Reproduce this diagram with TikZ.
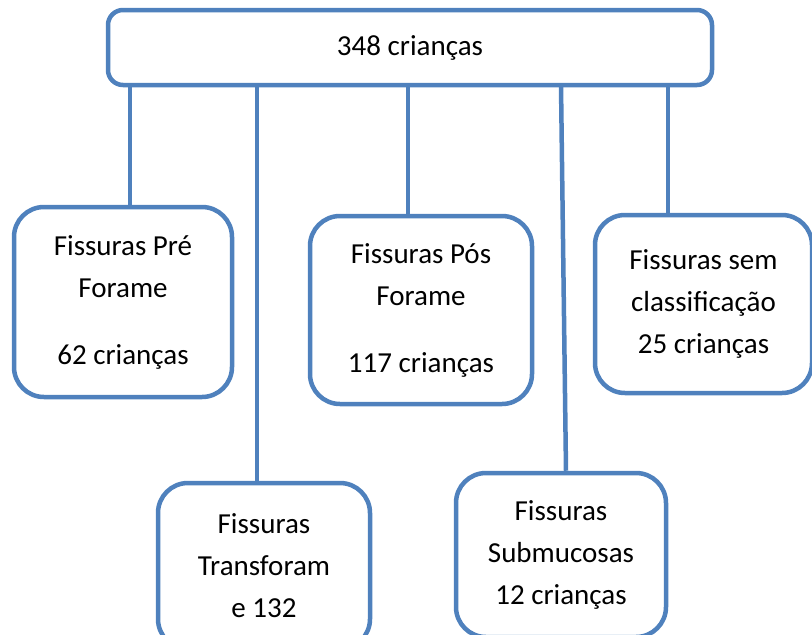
\documentclass[tikz,border=0pt]{standalone}
\usepackage{fontspec}
\setmainfont{Carlito}
\definecolor{azul}{HTML}{4F81BD}
\tikzset{
  caixa/.style={draw=azul,line width=4.5pt,fill=white,rounded corners=30pt,align=center,
    font=\fontsize{29}{42}\selectfont},
  liga/.style={draw=azul,line width=4.5pt}
}
\begin{document}
\begin{tikzpicture}[x=1pt,y=-1pt]
\useasboundingbox (0,0) rectangle (812,635);
% pontos de saida na caixa de cima
\coordinate (s1) at (130,85);
\coordinate (s2) at (257,85);
\coordinate (s3) at (408,85);
\coordinate (s4) at (561,85);
\coordinate (s5) at (668,85);
% caixas
\node[caixa,rounded corners=15pt,minimum width=604pt,minimum height=75pt](topo) at (410,47.5){348 crianças};
\node[caixa,minimum width=218pt,minimum height=190pt](pre) at (123,302){Fissuras Pré\\Forame\\[25pt]62 crianças};
\node[caixa,minimum width=222pt,minimum height=188pt](pos) at (421,310){Fissuras Pós\\Forame\\[25pt]117 crianças};
\node[caixa,minimum width=217pt,minimum height=178pt](sem) at (703.5,304){Fissuras sem\\classificação\\25 crianças};
\node[caixa,minimum width=212pt,minimum height=166pt](trans) at (264,566){Fissuras\\Transforam\\e 132};
\node[caixa,minimum width=210pt,minimum height=164pt](sub) at (561,555){Fissuras\\Submucosas\\12 crianças};
% ligacoes
\foreach \s/\n in {s1/pre,s2/trans,s3/pos,s5/sem}{\draw[liga](\s)--(\s |- \n.north);}
\draw[liga](s4)--([xshift=5pt]s4 |- sub.north);
\end{tikzpicture}
\end{document}
